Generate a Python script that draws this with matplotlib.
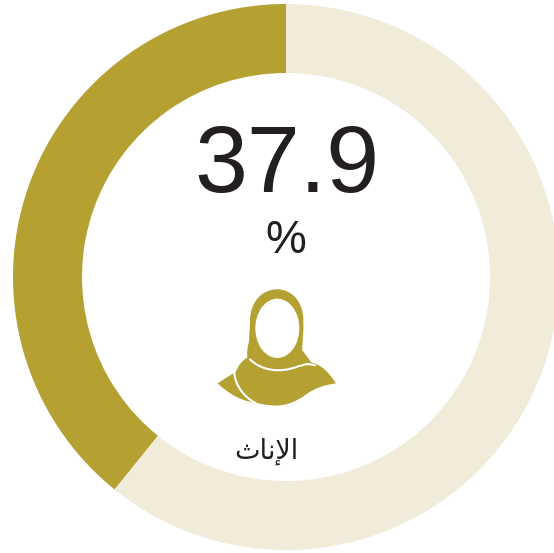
import matplotlib
matplotlib.use('Agg')
import matplotlib.pyplot as plt
from matplotlib.path import Path
from matplotlib.patches import PathPatch, Ellipse

# values
shares = [39.2, 60.8]
colors = ['#b5a032', '#f0ecd9']
value_label = '37.9'
unit_label = '%'
# presentation forms, because matplotlib does not shape arabic
group_label = '\ufe99\ufe8e\ufee7\ufef9\ufe8d'  # الإناث

W, H = 554, 553
GOLD = '#b5a032'
INK = '#231f20'

fig = plt.figure(figsize=(W / 100, H / 100), dpi=100)
ax = fig.add_axes([0, 0, 1, 1])

ax.pie(shares, colors=colors, startangle=90, counterclock=True,
       center=(286, H - 277), radius=273,
       wedgeprops=dict(width=69, linewidth=0))
ax.set_xlim(0, W)
ax.set_ylim(0, H)
ax.set_aspect('equal')
ax.axis('off')

ax.text(286.5, H - 192, value_label, family='Liberation Sans', fontsize=68.5,
        color=INK, ha='center', va='baseline')
ax.text(286, H - 253, unit_label, family='Liberation Sans', fontsize=33,
        color=INK, ha='center', va='baseline')
ax.text(266.5, H - 458, group_label, family='DejaVu Sans', fontsize=19.5,
        color=INK, ha='center', va='baseline')


# icon (3x crop at 200,270)
def pt(x, y):
    return (200 + x / 3, H - (270 + y / 3))


def curve(start, *segs):
    verts = [pt(*start)]
    codes = [Path.MOVETO]
    for s in segs:
        for p in s:
            verts.append(pt(*p))
            codes.append(Path.CURVE4)
    return Path(verts, codes)


body = curve((147, 215),
             [(148, 190), (150, 170), (150, 150)],
             [(152, 90), (190, 58), (232, 58)],
             [(275, 58), (310, 95), (310, 150)],
             [(311, 185), (308, 215), (306, 240)],
             [(315, 250), (323, 262), (333, 277)],
             [(365, 285), (385, 305), (408, 340)],
             [(370, 345), (345, 355), (320, 372)],
             [(285, 398), (250, 410), (215, 406)],
             [(190, 404), (175, 400), (165, 398)],
             [(120, 392), (85, 370), (53, 340)],
             [(70, 328), (85, 320), (108, 305)],
             [(115, 285), (125, 275), (142, 262)],
             [(140, 245), (143, 230), (147, 215)])
ax.add_patch(PathPatch(body, facecolor=GOLD, edgecolor='none', zorder=3))
ax.add_patch(Ellipse(pt(232, 175), 132 / 3, 178 / 3, facecolor='white',
                     edgecolor='none', zorder=4))

# thin white folds
folds = [
    curve((150, 268), [(180, 298), (235, 314), (300, 287)]),
    curve((103, 308), [(105, 345), (130, 380), (168, 400)]),
    curve((305, 287), [(315, 281), (325, 281), (345, 286)]),
]
for f in folds:
    ax.add_patch(PathPatch(f, facecolor='none', edgecolor='white', linewidth=1.5,
                           capstyle='round', zorder=5))

fig.savefig('out.png', dpi=100, facecolor='white')
